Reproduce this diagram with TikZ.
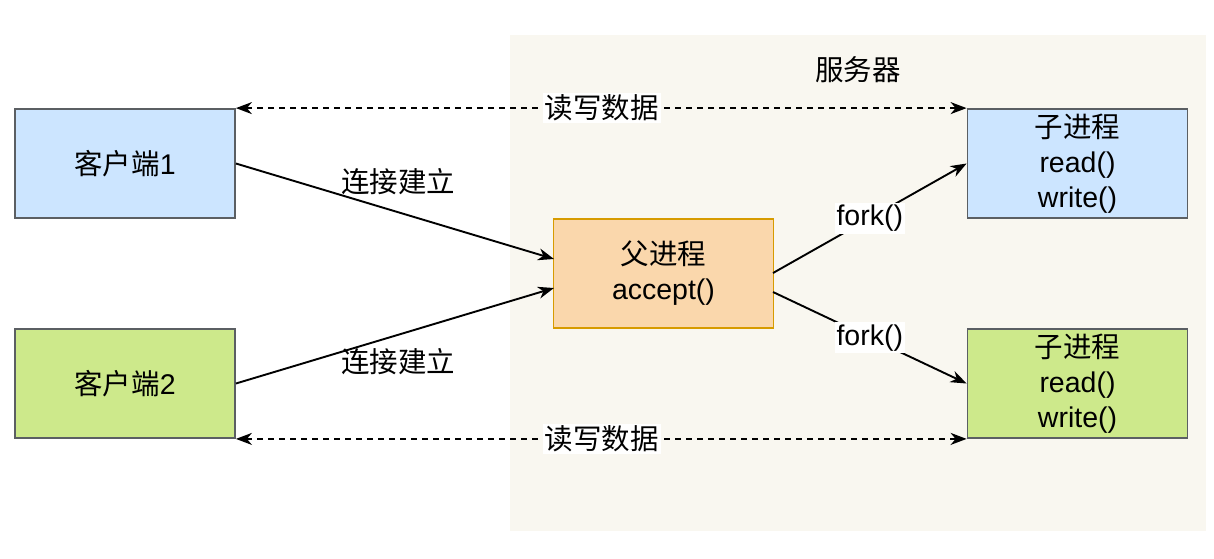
\documentclass[tikz,border=0pt]{standalone}
\usepackage{fontspec}
\setmainfont{Liberation Sans}
\newfontfamily\cjk{Noto Sans CJK SC}
\usetikzlibrary{arrows.meta}
\definecolor{serverbg}{HTML}{F9F7F0}
\definecolor{bluefill}{HTML}{CCE5FF}
\definecolor{greenfill}{HTML}{CDE98B}
\definecolor{orangefill}{HTML}{FAD7AC}
\definecolor{orangeline}{HTML}{D79B00}
\definecolor{boxline}{HTML}{5B5F63}
\newcommand{\zh}[1]{{\cjk #1}}
\tikzset{
  box/.style={draw=boxline, line width=1.8pt, minimum width=220pt, minimum height=109pt,
    inner sep=0pt, align=center, font=\fontsize{28.5}{35}\selectfont},
  lbl/.style={font=\fontsize{28.5}{35}\selectfont, inner sep=1pt},
  wlbl/.style={lbl, fill=white, inner sep=2pt},
  conn/.style={line width=1.9pt, -{Stealth[length=16pt, width=12pt, inset=5pt]}},
  dconn/.style={line width=1.9pt, dash pattern=on 6pt off 5pt,
    {Stealth[length=16pt, width=12pt, inset=5pt]}-{Stealth[length=16pt, width=12pt, inset=5pt]}}
}
\begin{document}
\begin{tikzpicture}[x=1pt, y=-1pt]
\useasboundingbox (0,0) rectangle (1214,558);
\fill[serverbg] (510,35) rectangle (1206,531);
\node[lbl] (srv) at (858,70) {\zh{服务器}};

\node[box, fill=bluefill] (c1) at (125,163.5) {\zh{客户端}1};
\node[box, fill=greenfill] (c2) at (125,383.5) {\zh{客户端}2};
\node[box, fill=orangefill, draw=orangeline] (p) at (663.5,273.5) {\zh{父进程}\\accept()};
\node[box, fill=bluefill] (k1) at (1077.5,163.5) {\zh{子进程}\\read()\\write()};
\node[box, fill=greenfill] (k2) at (1077.5,383.5) {\zh{子进程}\\read()\\write()};

\draw[dconn] (c1.north east) -- (k1.north west) node[wlbl, pos=0.501] (rw1) {\zh{读写数据}};
\draw[dconn] (c2.south east) -- (k2.south west) node[wlbl, pos=0.501] (rw2) {\zh{读写数据}};

\coordinate (pin1) at (554,259);
\coordinate (pin2) at (554,288);
\coordinate (pout1) at (773,273);
\coordinate (pout2) at (773,292);
\draw[conn] (c1.east) -- (pin1);
\draw[conn] (c2.east) -- (pin2);
\node[lbl] (l1) at (398,182) {\zh{连接建立}};
\node[lbl] (l2) at (398,362) {\zh{连接建立}};

\draw[conn] (pout1) -- (k1.west) node[wlbl, pos=0.5] (f1) {fork()};
\draw[conn] (pout2) -- (k2.west) node[wlbl, pos=0.5] (f2) {fork()};
\end{tikzpicture}
\end{document}
